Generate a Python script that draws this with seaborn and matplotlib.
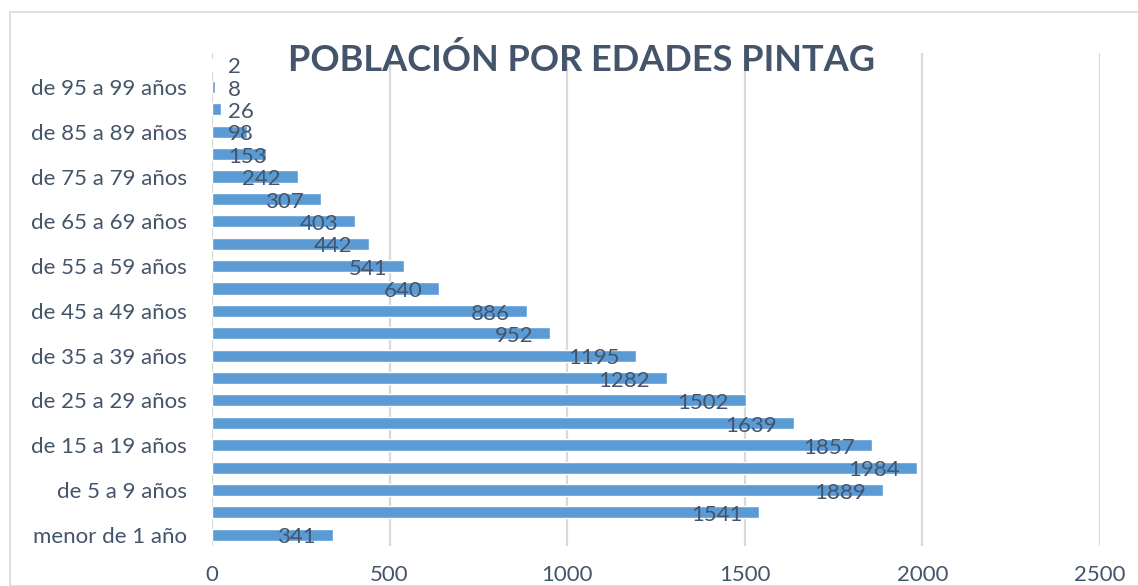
import seaborn as sns
import matplotlib.pyplot as plt
import pandas as pd
from matplotlib.patches import Rectangle

# datos de población por grupo de edad (de arriba hacia abajo)
edades = [
    "de 100 años y más", "de 95 a 99 años", "de 90 a 94 años", "de 85 a 89 años",
    "de 80 a 84 años", "de 75 a 79 años", "de 70 a 74 años", "de 65 a 69 años",
    "de 60 a 64 años", "de 55 a 59 años", "de 50 a 54 años", "de 45 a 49 años",
    "de 40 a 44 años", "de 35 a 39 años", "de 30 a 34 años", "de 25 a 29 años",
    "de 20 a 24 años", "de 15 a 19 años", "de 10 a 14 años", "de 5 a 9 años",
    "de 1 a 4 años", "menor de 1 año",
]
poblacion = [2, 8, 26, 98, 153, 242, 307, 403, 442, 541, 640, 886,
             952, 1195, 1282, 1502, 1639, 1857, 1984, 1889, 1541, 341]
xticks = [0, 500, 1000, 1500, 2000, 2500]

df = pd.DataFrame({"edad": edades, "pob": poblacion})

sns.set_style("white")
plt.rcParams['font.family'] = ['Lato', 'DejaVu Sans']
texto = "#44546A"

fig = plt.figure(figsize=(11.38, 5.86), dpi=100)
ax = fig.add_axes([0.1863, 0.0683, 0.7803, 0.8406])

# marco del gráfico
fig.patches.append(Rectangle((10 / 1138, 0), 1.2, 1 - 12 / 586, transform=fig.transFigure,
                             fill=False, edgecolor="#D9D9D9", linewidth=1.2))

sns.barplot(data=df, x="pob", y="edad", orient="h", color="#5B9BD5",
            saturation=1, width=0.54, ax=ax)

ax.set_xlim(0, 2500)
ax.set_xticks(xticks)
ax.set_xticklabels([str(t) for t in xticks])
ax.grid(axis="x", color="#D9D9D9", linewidth=1.6)
ax.set_axisbelow(True)
for s in ax.spines.values():
    s.set_visible(False)

# solo se muestra una etiqueta de cada dos
ax.set_yticks(range(len(edades)))
ax.set_yticklabels([e if i % 2 == 1 else "" for i, e in enumerate(edades)])
ax.tick_params(axis="y", length=0, pad=18, labelsize=16, labelcolor=texto)
ax.tick_params(axis="x", length=0, pad=14, labelsize=16, labelcolor=texto)
ax.set_xlabel("")
ax.set_ylabel("")

# etiquetas de valor dentro del extremo de la barra
for i, v in enumerate(poblacion):
    if v > 200:
        ax.text(v - 48, i + 0.12, str(v), ha="right", va="center", fontsize=16, color=texto)
    else:
        ax.text(45, i + 0.12, str(v), ha="left", va="center", fontsize=16, color=texto)

fig.text(581 / 1138, 1 - 60 / 586, "POBLACIÓN POR EDADES PINTAG", ha="center", va="center",
         fontsize=26, fontweight="bold", color=texto)

fig.savefig("out.png", dpi=100)
